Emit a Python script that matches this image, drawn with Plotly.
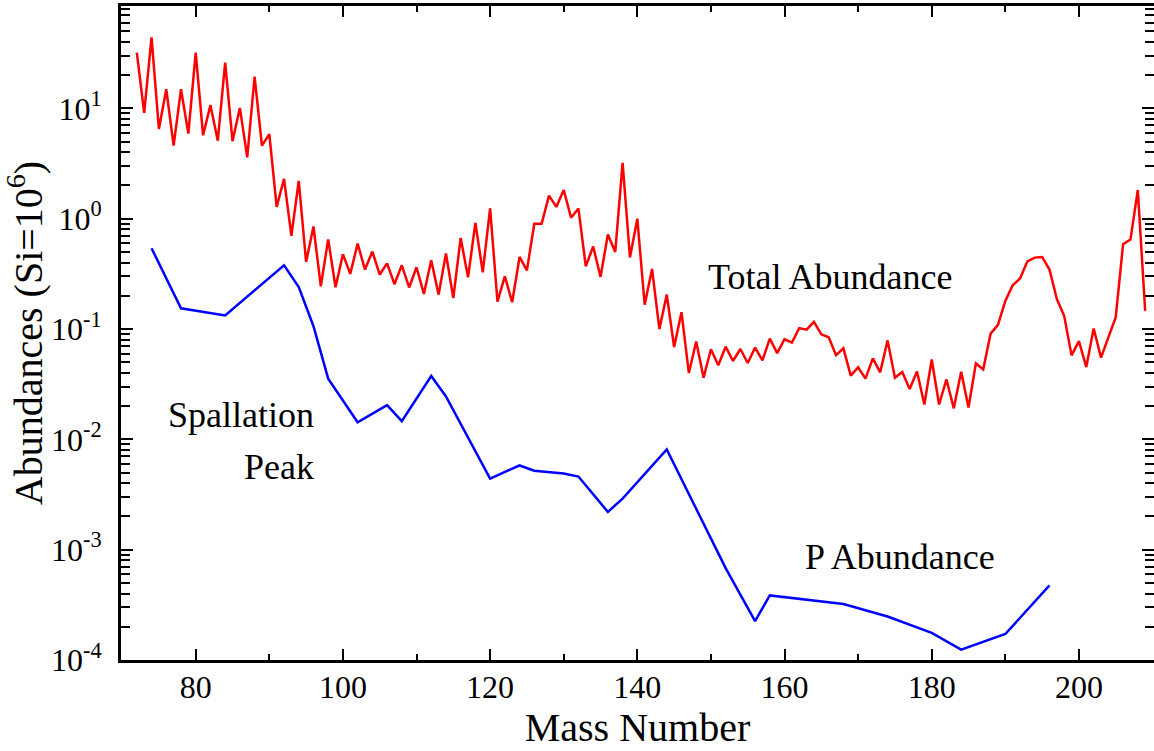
import plotly.graph_objects as go

# ---- data ----
total_mass = list(range(72, 210))
total_abund = [
    32, 9.1, 44, 6.5, 14.9, 4.6, 14.9, 5.9, 32, 5.7,          # 72-81
    10.7, 5.1, 26, 5.05, 10.1, 3.6, 19.4, 4.6, 5.85, 1.28,     # 82-91
    2.3, 0.70, 2.2, 0.405, 0.85, 0.244, 0.65, 0.239, 0.477, 0.316,  # 92-101
    0.595, 0.346, 0.504, 0.312, 0.394, 0.255, 0.378, 0.238, 0.363, 0.208,  # 102-111
    0.42, 0.205, 0.483, 0.191, 0.67, 0.294, 0.916, 0.327, 1.24, 0.177,  # 112-121
    0.30, 0.175, 0.45, 0.34, 0.90, 0.90, 1.62, 1.28, 1.82, 1.02,  # 122-131
    1.24, 0.37, 0.56, 0.297, 0.72, 0.50, 3.2, 0.445, 1.0, 0.166,  # 132-141
    0.35, 0.10, 0.205, 0.0687, 0.142, 0.040, 0.077, 0.0362, 0.0655, 0.0469,  # 142-151
    0.0692, 0.0513, 0.0659, 0.0492, 0.0678, 0.052, 0.0818, 0.0605, 0.081, 0.0753,  # 152-161
    0.102, 0.0988, 0.116, 0.0895, 0.0841, 0.058, 0.0668, 0.0378, 0.0449, 0.0355,  # 162-171
    0.0542, 0.0405, 0.0789, 0.0362, 0.0408, 0.0286, 0.0413, 0.0207, 0.053, 0.0207,  # 172-181
    0.0349, 0.0191, 0.041, 0.0194, 0.0489, 0.0431, 0.0908, 0.109, 0.18, 0.249,  # 182-191
    0.287, 0.411, 0.444, 0.45, 0.346, 0.187, 0.131, 0.0577, 0.0778, 0.0452,  # 192-201
    0.101, 0.055, 0.0841, 0.128, 0.587, 0.647, 1.82, 0.146,  # 202-209
]

p_mass = [74, 78, 84, 92, 94, 96, 98, 102, 106, 108, 112, 114, 120, 124, 126,
          130, 132, 136, 138, 144, 152, 156, 158, 168, 174, 180, 184, 190, 196]
p_abund = [0.54, 0.154, 0.133, 0.378, 0.24, 0.106, 0.0355, 0.0143, 0.0204, 0.0146,
           0.0375, 0.0245, 0.0044, 0.0058, 0.0052, 0.0049, 0.0046, 0.0022, 0.0029,
           0.0081, 6.8e-4, 2.25e-4, 3.85e-4, 3.22e-4, 2.48e-4, 1.76e-4, 1.24e-4,
           1.72e-4, 4.75e-4]

x_ticks = [80, 100, 120, 140, 160, 180, 200]
x_minor = [90, 110, 130, 150, 170, 190]
y_ticks = [1e-4, 1e-3, 1e-2, 1e-1, 1e0, 1e1]
y_ticktext = ["10<sup>-4</sup>", "10<sup>-3</sup>", "10<sup>-2</sup>",
              "10<sup>-1</sup>", "10<sup>0</sup>", "10<sup>1</sup>"]
y_minor = [m * 10.0 ** e for e in range(-4, 2) for m in range(2, 10)]

SERIF = "Liberation Serif, Times New Roman, serif"

fig = go.Figure()
fig.add_trace(go.Scatter(x=total_mass, y=total_abund, mode="lines",
                         line=dict(color="#ff0000", width=2.5), name="Total Abundance",
                         showlegend=False))
fig.add_trace(go.Scatter(x=p_mass, y=p_abund, mode="lines",
                         line=dict(color="#0000ff", width=2.5), name="P Abundance",
                         showlegend=False))

axis_common = dict(showline=True, linewidth=3, linecolor="black", mirror="ticks",
                   ticks="inside", tickwidth=2, tickcolor="black", showgrid=False,
                   zeroline=False, tickfont=dict(family=SERIF, size=32, color="black"))

fig.update_xaxes(range=[69.85, 210.2], tickvals=x_ticks, ticklen=11,
                 ticklabelstandoff=-3,
                 minor=dict(tickvals=x_minor, ticks="inside", ticklen=6, tickwidth=2,
                            tickcolor="black"),
                 title=dict(text="Mass Number", font=dict(family=SERIF, size=40, color="black"),
                            standoff=9),
                 automargin=False, **axis_common)
fig.update_yaxes(type="log", range=[-4, 1.928], tickvals=y_ticks, ticktext=y_ticktext,
                 ticklen=12, ticklabelstandoff=10,
                 minor=dict(tickvals=y_minor, ticks="inside", ticklen=9, tickwidth=2,
                            tickcolor="black"),
                 title=dict(text="Abundances (Si=10<sup>6</sup>)",
                            font=dict(family=SERIF, size=40, color="black"), standoff=0),
                 automargin=False, **axis_common)

ann_font = dict(family=SERIF, size=36, color="black")
fig.add_annotation(x=166.2, y=-0.531, text="Total Abundance", showarrow=False,
                   xanchor="center", yanchor="middle", font=ann_font)
fig.add_annotation(x=175.7, y=-3.07, text="P Abundance", showarrow=False,
                   xanchor="center", yanchor="middle", font=ann_font)
fig.add_annotation(x=96.3, y=-1.78, text="Spallation", showarrow=False,
                   xanchor="right", yanchor="middle", font=ann_font)
fig.add_annotation(x=96.3, y=-2.25, text="Peak", showarrow=False,
                   xanchor="right", yanchor="middle", font=ann_font)

fig.update_layout(width=1154, height=751, margin=dict(l=121, r=0, t=6, b=91),
                  paper_bgcolor="white", plot_bgcolor="white", showlegend=False)

fig.write_html("out.html")
